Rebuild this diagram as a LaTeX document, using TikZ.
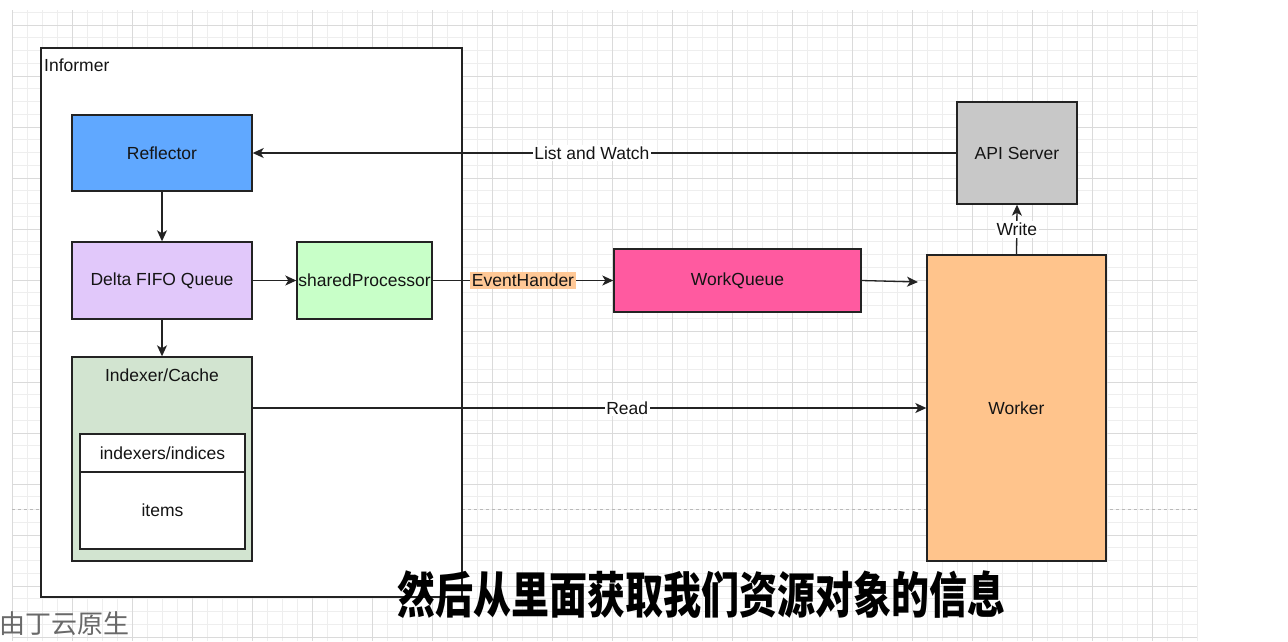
\documentclass[tikz,border=0pt]{standalone}
\usepackage{fontspec}
\usepackage{graphicx}
\setmainfont{Liberation Sans}
\newfontfamily\cjk{Noto Sans CJK SC}
\usetikzlibrary{arrows.meta}
\definecolor{linec}{RGB}{35,35,35}
\definecolor{textc}{RGB}{20,20,20}
\definecolor{gridminor}{RGB}{238,238,238}
\definecolor{gridmajor}{RGB}{218,218,218}
\definecolor{reflfill}{RGB}{96,168,255}
\definecolor{deltafill}{RGB}{225,200,250}
\definecolor{sharedfill}{RGB}{200,255,200}
\definecolor{evfill}{RGB}{255,200,150}
\definecolor{wqfill}{RGB}{255,90,160}
\definecolor{wkfill}{RGB}{255,196,140}
\definecolor{apifill}{RGB}{200,200,200}
\definecolor{idxfill}{RGB}{210,228,208}
\definecolor{wmark}{RGB}{105,105,105}
\newcommand\lblfont{\fontsize{17.5}{21}\selectfont}
\begin{document}
\begin{tikzpicture}[x=1pt,y=-1pt,
  box/.style={draw=linec, line width=1.4pt, inner sep=0pt, align=center, font=\lblfont, text=textc},
  arr/.style={draw=linec, line width=1.3pt, -{Stealth[length=11pt,width=10pt,inset=3pt]}},
  lab/.style={fill=white, inner xsep=1.5pt, inner ysep=2pt, font=\lblfont, text=textc},
  gminor/.style={draw=gridminor, line width=0.8pt},
  gmajor/.style={draw=gridmajor, line width=1pt}]
\useasboundingbox (0,0) rectangle (1288,641);
\fill[white] (0,0) rectangle (1288,641);
% grid
\foreach \gx in {12,27,...,1197} \draw[gminor] (\gx,10) -- (\gx,641);
\foreach \gy in {12.25,25,...,641} \draw[gminor] (12,\gy) -- (1197,\gy);
\foreach \gx in {12,72,...,1197} \draw[gmajor] (\gx,10) -- (\gx,641);
\foreach \gy in {25,76,...,641} \draw[gmajor] (12,\gy) -- (1197,\gy);
\draw[draw={rgb,255:red,185;green,185;blue,185}, line width=1pt, dash pattern=on 3pt off 3pt] (12,509.5) -- (1197,509.5);
% informer container
\node[box, fill=white, minimum width=421pt, minimum height=549pt] (inf) at (251.5,322.5) {};
\node[anchor=west, inner sep=0pt, font=\lblfont, text=textc] (inflab) at (44,65) {Informer};
% nodes
\node[box, fill=reflfill, minimum width=180pt, minimum height=76pt] (refl) at (162,153) {Reflector};
\node[box, fill=deltafill, minimum width=180pt, minimum height=77pt] (delta) at (162,280.5) {Delta FIFO Queue};
\node[box, fill=sharedfill, minimum width=135pt, minimum height=77pt] (shared) at (364.5,280.5) {sharedProcessor};
\node[box, fill=idxfill, minimum width=180pt, minimum height=204pt] (idx) at (162,459) {};
\node[inner sep=0pt, font=\lblfont, text=textc] (idxlab) at (162,375) {Indexer/Cache};
\node[box, fill=white, minimum width=165pt, minimum height=38pt] (row1) at (162.5,453) {indexers/indices};
\node[box, fill=white, minimum width=165pt, minimum height=77pt] (row2) at (162.5,510.5) {items};
\node[box, fill=wqfill, minimum width=247pt, minimum height=63pt] (wq) at (737.5,280.5) {WorkQueue};
\node[box, fill=wkfill, minimum width=179pt, minimum height=306pt] (wk) at (1016.5,408) {Worker};
\node[box, fill=apifill, minimum width=120pt, minimum height=102pt] (api) at (1017,153) {API Server};
\coordinate (wqend) at (918,282);
% connectors
\draw[arr] (api.west) -- node[lab, pos=0.518] (lw) {List and Watch} (refl.east);
\draw[arr] (refl.south) -- (delta.north);
\draw[arr] (delta.east) -- (shared.west);
\draw[arr] (delta.south) -- (idx.north);
\draw[arr] (shared.east) -- node[lab, fill=evfill] (ev) {EventHander} (wq.west);
\draw[arr] (wq.east) -- (wqend);
\draw[arr] (wk.north) -- node[lab] (wr) {Write} (api.south);
\draw[arr] (idx.east |- wk.west) -- node[lab, pos=0.556] (rd) {Read} (wk.west);
% overlay texts
\node[inner sep=0pt, font=\cjk\bfseries\fontsize{38}{40}\selectfont, text=black] (sub) at (701.5,595) {\scalebox{1}[1.3]{然后从里面获取我们资源对象的信息}};
\node[anchor=west, inner sep=0pt, font=\cjk\fontsize{26}{28}\selectfont, text=wmark] (wm) at (-1,624) {由丁云原生};
\end{tikzpicture}
\end{document}
